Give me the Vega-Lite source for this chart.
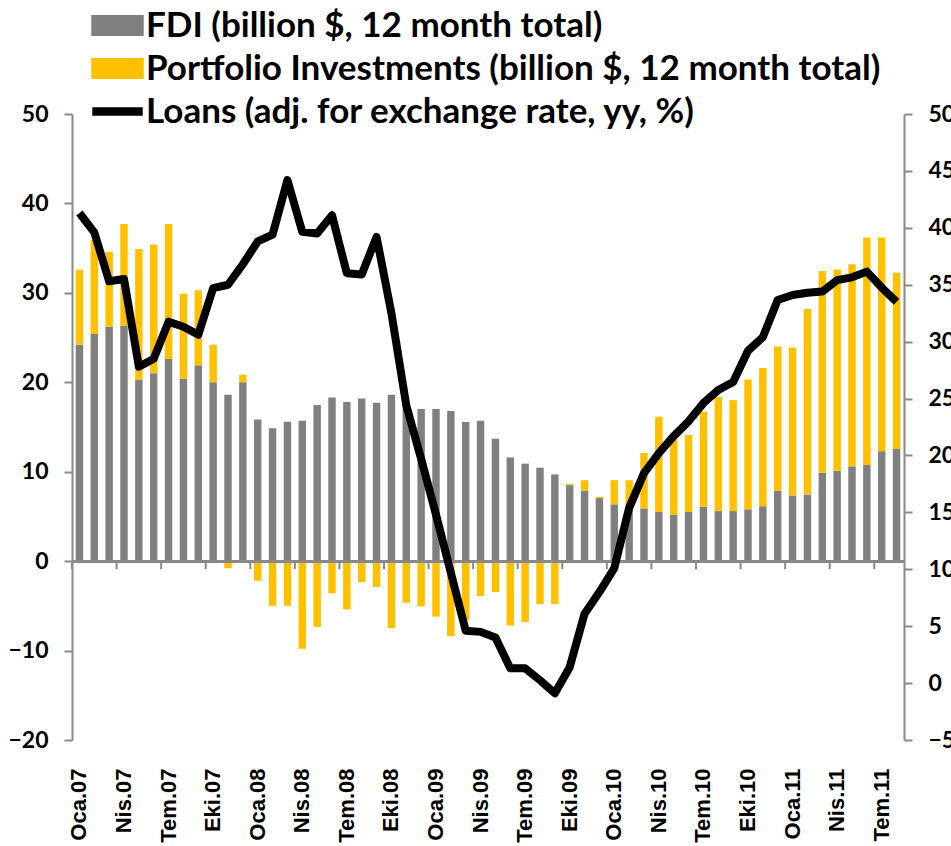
{
  "$schema": "https://vega.github.io/schema/vega-lite/v6.json",
  "width": 832,
  "height": 626,
  "autosize": {"type": "none"},
  "padding": {"left": 72, "top": 114, "right": 47, "bottom": 106},
  "background": "white",
  "config": {"view": {"stroke": null}, "axis": {"grid": false}},
  "data": {"values": [
    {"m": "Oca.07", "fdi": 24.2, "pi": 8.4, "loans": 41.3},
    {"m": "Şub.07", "fdi": 25.4, "pi": 10.5, "loans": 39.6},
    {"m": "Mar.07", "fdi": 26.2, "pi": 8.4, "loans": 35.3},
    {"m": "Nis.07", "fdi": 26.3, "pi": 11.4, "loans": 35.5},
    {"m": "May.07", "fdi": 20.3, "pi": 14.6, "loans": 27.8},
    {"m": "Haz.07", "fdi": 21.0, "pi": 14.4, "loans": 28.5},
    {"m": "Tem.07", "fdi": 22.6, "pi": 15.1, "loans": 31.75},
    {"m": "Ağu.07", "fdi": 20.4, "pi": 9.5, "loans": 31.3},
    {"m": "Eyl.07", "fdi": 21.9, "pi": 8.4, "loans": 30.6},
    {"m": "Eki.07", "fdi": 20.0, "pi": 4.2, "loans": 34.7},
    {"m": "Kas.07", "fdi": 18.6, "pi": -0.8, "loans": 35.0},
    {"m": "Ara.07", "fdi": 20.0, "pi": 0.85, "loans": 36.8},
    {"m": "Oca.08", "fdi": 15.85, "pi": -2.2, "loans": 38.8},
    {"m": "Şub.08", "fdi": 14.85, "pi": -5.0, "loans": 39.4},
    {"m": "Mar.08", "fdi": 15.6, "pi": -5.0, "loans": 44.2},
    {"m": "Nis.08", "fdi": 15.7, "pi": -9.8, "loans": 39.65},
    {"m": "May.08", "fdi": 17.45, "pi": -7.35, "loans": 39.5},
    {"m": "Haz.08", "fdi": 18.3, "pi": -3.6, "loans": 41.1},
    {"m": "Tem.08", "fdi": 17.8, "pi": -5.4, "loans": 36.0},
    {"m": "Ağu.08", "fdi": 18.2, "pi": -2.35, "loans": 35.9},
    {"m": "Eyl.08", "fdi": 17.7, "pi": -2.9, "loans": 39.2},
    {"m": "Eki.08", "fdi": 18.6, "pi": -7.5, "loans": 32.5},
    {"m": "Kas.08", "fdi": 17.3, "pi": -4.65, "loans": 24.4},
    {"m": "Ara.08", "fdi": 17.0, "pi": -5.05, "loans": 19.7},
    {"m": "Oca.09", "fdi": 17.0, "pi": -6.2, "loans": 14.8},
    {"m": "Şub.09", "fdi": 16.8, "pi": -8.4, "loans": 9.7},
    {"m": "Mar.09", "fdi": 15.55, "pi": -6.6, "loans": 4.6},
    {"m": "Nis.09", "fdi": 15.7, "pi": -3.9, "loans": 4.5},
    {"m": "May.09", "fdi": 13.7, "pi": -3.45, "loans": 4.0},
    {"m": "Haz.09", "fdi": 11.6, "pi": -7.2, "loans": 1.3},
    {"m": "Tem.09", "fdi": 10.9, "pi": -6.8, "loans": 1.3},
    {"m": "Ağu.09", "fdi": 10.45, "pi": -4.8, "loans": 0.25},
    {"m": "Eyl.09", "fdi": 9.7, "pi": -4.8, "loans": -0.9},
    {"m": "Eki.09", "fdi": 8.5, "pi": 0.15, "loans": 1.4},
    {"m": "Kas.09", "fdi": 7.9, "pi": 1.15, "loans": 6.1},
    {"m": "Ara.09", "fdi": 7.05, "pi": 0.15, "loans": 8.0},
    {"m": "Oca.10", "fdi": 6.35, "pi": 2.7, "loans": 10.1},
    {"m": "Şub.10", "fdi": 6.15, "pi": 2.9, "loans": 15.4},
    {"m": "Mar.10", "fdi": 5.9, "pi": 6.2, "loans": 18.45},
    {"m": "Nis.10", "fdi": 5.5, "pi": 10.65, "loans": 20.2},
    {"m": "May.10", "fdi": 5.2, "pi": 8.5, "loans": 21.7},
    {"m": "Haz.10", "fdi": 5.5, "pi": 8.6, "loans": 23.0},
    {"m": "Tem.10", "fdi": 6.1, "pi": 10.6, "loans": 24.6},
    {"m": "Ağu.10", "fdi": 5.6, "pi": 12.75, "loans": 25.75},
    {"m": "Eyl.10", "fdi": 5.6, "pi": 12.4, "loans": 26.45},
    {"m": "Eki.10", "fdi": 5.8, "pi": 14.5, "loans": 29.2},
    {"m": "Kas.10", "fdi": 6.15, "pi": 15.45, "loans": 30.4},
    {"m": "Ara.10", "fdi": 7.9, "pi": 16.1, "loans": 33.65},
    {"m": "Oca.11", "fdi": 7.35, "pi": 16.55, "loans": 34.1},
    {"m": "Şub.11", "fdi": 7.45, "pi": 20.75, "loans": 34.3},
    {"m": "Mar.11", "fdi": 9.9, "pi": 22.55, "loans": 34.4},
    {"m": "Nis.11", "fdi": 10.1, "pi": 22.5, "loans": 35.4},
    {"m": "May.11", "fdi": 10.6, "pi": 22.6, "loans": 35.65},
    {"m": "Haz.11", "fdi": 10.75, "pi": 25.45, "loans": 36.15},
    {"m": "Tem.11", "fdi": 12.3, "pi": 23.9, "loans": 34.75},
    {"m": "Ağu.11", "fdi": 12.55, "pi": 19.7, "loans": 33.5}
  ]},
  "layer": [
    {
      "layer": [
        {
          "transform": [{"fold": ["fdi", "pi"], "as": ["key", "val"]}],
          "mark": {"type": "bar"},
          "encoding": {
            "x": {"field": "m", "type": "ordinal", "sort": null,
              "scale": {"type": "band", "paddingInner": 0.5, "paddingOuter": 0.25, "domain": ["Oca.07","Şub.07","Mar.07","Nis.07","May.07","Haz.07","Tem.07","Ağu.07","Eyl.07","Eki.07","Kas.07","Ara.07","Oca.08","Şub.08","Mar.08","Nis.08","May.08","Haz.08","Tem.08","Ağu.08","Eyl.08","Eki.08","Kas.08","Ara.08","Oca.09","Şub.09","Mar.09","Nis.09","May.09","Haz.09","Tem.09","Ağu.09","Eyl.09","Eki.09","Kas.09","Ara.09","Oca.10","Şub.10","Mar.10","Nis.10","May.10","Haz.10","Tem.10","Ağu.10","Eyl.10","Eki.10","Kas.10","Ara.10","Oca.11","Şub.11","Mar.11","Nis.11","May.11","Haz.11","Tem.11","Ağu.11"]},
              "axis": {"title": null, "values": ["Oca.07","Nis.07","Tem.07","Eki.07","Oca.08","Nis.08","Tem.08","Eki.08","Oca.09","Nis.09","Tem.09","Eki.09","Oca.10","Nis.10","Tem.10","Eki.10","Oca.11","Nis.11","Tem.11"],
                "domain": false, "ticks": false, "labelAngle": -90, "labelFont": "Liberation Sans", "labelFontSize": 22, "labelFontWeight": "bold", "labelColor": "#000000", "labelPadding": 28}},
            "y": {"field": "val", "type": "quantitative", "stack": "zero",
              "scale": {"domain": [-20, 50], "nice": false},
              "axis": {"title": null, "orient": "left", "values": [-20, -10, 0, 10, 20, 30, 40, 50], "domainColor": "#898989", "domainWidth": 2, "tickColor": "#898989", "tickWidth": 2, "tickSize": 8, "labelFont": "Lato", "labelFontSize": 23, "labelFontWeight": "bold", "labelColor": "#000000", "labelPadding": 16}},
            "color": {"field": "key", "type": "nominal",
              "scale": {"domain": ["fdi", "pi", "loans"], "range": ["#808080", "#FFC000", "#000000"]},
              "legend": {"title": null, "orient": "none", "legendX": 28, "legendY": -106, "direction": "vertical", "padding": 0,
                "labelFont": "Lato", "labelFontSize": 35, "labelFontWeight": "bold", "labelColor": "#000000", "labelLimit": 1000,
                "labelExpr": "datum.value == 'fdi' ? 'FDI (billion $, 12 month total)' : datum.value == 'pi' ? 'Portfolio Investments (billion $, 12 month total)' : 'Loans (adj. for exchange rate, yy, %)'",
                "symbolSize": 441, "symbolStrokeWidth": 0, "labelOffset": 11, "rowPadding": 7,
                "encode": {"symbols": {"update": {
                  "shape": {"signal": "datum.value === 'loans' ? 'M-2.4,-0.4H2.4V0.4H-2.4Z' : 'M-2.5,-1H2.5V1H-2.5Z'"},
                  "fill": {"signal": "scale('color', datum.value)"},
                  "stroke": {"value": null},
                  "strokeWidth": {"value": 0},
                  "opacity": {"value": 1},
                  "size": {"value": 441}
                }}}}},
            "order": {"field": "key", "sort": "ascending"}
          }
        },
        {
          "mark": {"type": "rule", "color": "#898989", "strokeWidth": 2},
          "encoding": {"y": {"datum": 0}}
        },
        {
          "transform": [{"filter": {"field": "m", "oneOf": ["Oca.07","Nis.07","Tem.07","Eki.07","Oca.08","Nis.08","Tem.08","Eki.08","Oca.09","Nis.09","Tem.09","Eki.09","Oca.10","Nis.10","Tem.10","Eki.10","Oca.11","Nis.11","Tem.11"]}}],
          "mark": {"type": "rule", "color": "#898989", "strokeWidth": 2},
          "encoding": {
            "x": {"field": "m", "type": "ordinal", "sort": null, "bandPosition": -0.5,
              "scale": {"type": "band", "paddingInner": 0.5, "paddingOuter": 0.25, "domain": ["Oca.07","Şub.07","Mar.07","Nis.07","May.07","Haz.07","Tem.07","Ağu.07","Eyl.07","Eki.07","Kas.07","Ara.07","Oca.08","Şub.08","Mar.08","Nis.08","May.08","Haz.08","Tem.08","Ağu.08","Eyl.08","Eki.08","Kas.08","Ara.08","Oca.09","Şub.09","Mar.09","Nis.09","May.09","Haz.09","Tem.09","Ağu.09","Eyl.09","Eki.09","Kas.09","Ara.09","Oca.10","Şub.10","Mar.10","Nis.10","May.10","Haz.10","Tem.10","Ağu.10","Eyl.10","Eki.10","Kas.10","Ara.10","Oca.11","Şub.11","Mar.11","Nis.11","May.11","Haz.11","Tem.11","Ağu.11"]}},
            "y": {"datum": 0},
            "y2": {"datum": -0.9}
          }
        }
      ]
    },
    {
      "mark": {"type": "line", "strokeWidth": 8, "strokeJoin": "round"},
      "encoding": {
        "x": {"field": "m", "type": "ordinal", "sort": null,
          "scale": {"type": "band", "paddingInner": 0.5, "paddingOuter": 0.25, "domain": ["Oca.07","Şub.07","Mar.07","Nis.07","May.07","Haz.07","Tem.07","Ağu.07","Eyl.07","Eki.07","Kas.07","Ara.07","Oca.08","Şub.08","Mar.08","Nis.08","May.08","Haz.08","Tem.08","Ağu.08","Eyl.08","Eki.08","Kas.08","Ara.08","Oca.09","Şub.09","Mar.09","Nis.09","May.09","Haz.09","Tem.09","Ağu.09","Eyl.09","Eki.09","Kas.09","Ara.09","Oca.10","Şub.10","Mar.10","Nis.10","May.10","Haz.10","Tem.10","Ağu.10","Eyl.10","Eki.10","Kas.10","Ara.10","Oca.11","Şub.11","Mar.11","Nis.11","May.11","Haz.11","Tem.11","Ağu.11"]}},
        "y": {"field": "loans", "type": "quantitative",
          "scale": {"domain": [-5, 50], "nice": false},
          "axis": {"title": null, "orient": "right", "values": [-5, 0, 5, 10, 15, 20, 25, 30, 35, 40, 45, 50], "domainColor": "#898989", "domainWidth": 2, "tickColor": "#898989", "tickWidth": 2, "tickSize": 8, "labelFont": "Lato", "labelFontSize": 23, "labelFontWeight": "bold", "labelColor": "#000000", "labelPadding": 16}},
        "color": {"datum": "loans"}
      }
    }
  ],
  "resolve": {"scale": {"y": "independent"}}
}
